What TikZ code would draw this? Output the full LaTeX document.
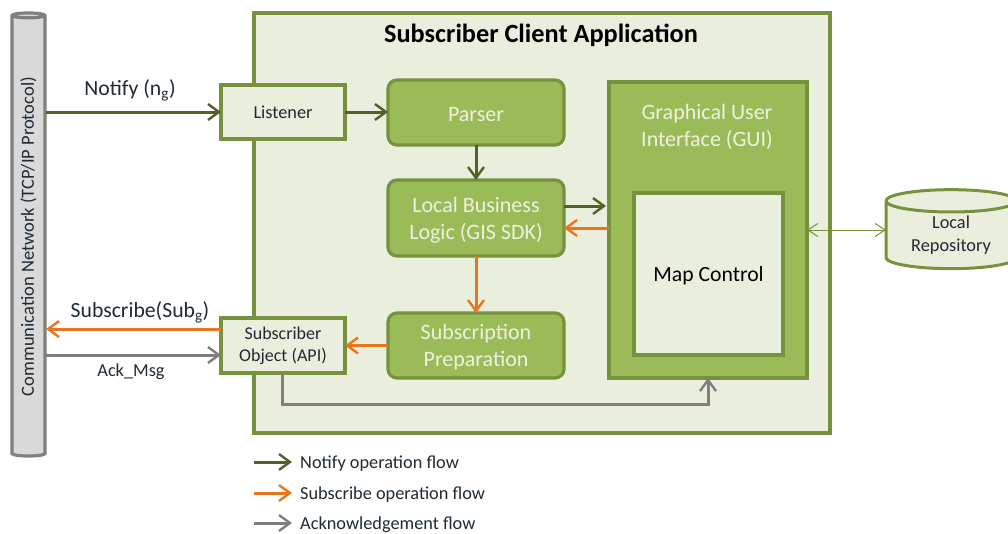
\documentclass[tikz,border=0pt]{standalone}
\usepackage{fontspec}
\setmainfont{Carlito}
\usetikzlibrary{arrows.meta,shapes.geometric}
\definecolor{oliveline}{HTML}{76923C}
\definecolor{olivefill}{HTML}{9BBB59}
\definecolor{olivepale}{HTML}{E9EEDD}
\definecolor{notifycol}{HTML}{4F6228}
\definecolor{subscol}{HTML}{E8761E}
\definecolor{ackcol}{HTML}{7F7F7F}
\definecolor{palewhite}{HTML}{EDF2E0}
\definecolor{inktext}{HTML}{1F2A33}
\tikzset{
  lowtext/.style={execute at begin node={\rule{0pt}{#1}}},
  palebox/.style={draw=oliveline,fill=olivepale,line width=3.2pt,inner sep=0pt,outer sep=0pt,align=center,text=inktext},
  stepbox/.style={draw=oliveline,fill=olivefill,line width=3.2pt,rounded corners=9pt,inner sep=0pt,outer sep=0pt,
    minimum width=176pt,align=center,text=palewhite,font=\fontsize{22}{27}\selectfont},
  flowtip/.style={-{Straight Barb[length=11pt,width=16pt,line width=2.4pt]}},
  notifyflow/.style={draw=notifycol,line width=3pt,flowtip},
  subsflow/.style={draw=subscol,line width=3pt,flowtip},
  ackflow/.style={draw=ackcol,line width=3pt,flowtip},
  flowtext/.style={inner sep=0pt,text=inktext,font=\fontsize{21.7}{24}\selectfont},
  legendtext/.style={anchor=west,inner xsep=8pt,inner ysep=0pt,text=inktext,font=\fontsize{18.3}{22}\selectfont}
}
\begin{document}
\begin{tikzpicture}[x=1pt,y=-1pt,>=Latex]
\useasboundingbox (0,0) rectangle (1008,533);

% Client application frame
\node[palebox,minimum width=576pt,minimum height=420pt] (client) at (542,223) {};
\node[text=black,font=\bfseries\fontsize{26.3}{30}\selectfont] (title) at (541,35) {Subscriber Client Application};

% Network pipe
\node[cylinder,draw=ackcol,fill=black!15,line width=3.2pt,rotate=90,aspect=0.3,inner sep=0pt,outer sep=0pt,
  minimum width=33pt,minimum height=443pt,text=inktext,font=\fontsize{18.5}{22}\selectfont] (network) at (28.5,236.5)
  {Communication Network (TCP/IP Protocol)};
\coordinate (netnotify) at (46,112);
\coordinate (netsubs) at (46,329);
\coordinate (netack) at (46,355);

% Boxes on the frame
\node[palebox,minimum width=124pt,minimum height=54pt,font=\fontsize{18.3}{22}\selectfont] (listener) at (283,112) {Listener};
\node[palebox,minimum width=124pt,minimum height=55pt,font=\fontsize{18}{22}\selectfont] (subscriber) at (283,345.5) {Subscriber\\Object (API)};

% Steps
\node[stepbox,lowtext=18.5pt,minimum height=65pt] (parser) at (476,112.5) {Parser};
\node[stepbox,minimum height=76pt] (logic) at (476,218) {\rule{0pt}{20pt}Local Business\\Logic (GIS SDK)};
\node[stepbox,minimum height=65pt] (prep) at (476,345.5) {\rule{0pt}{19pt}Subscription\\Preparation};

% GUI
\node[draw=oliveline,fill=olivefill,line width=3.2pt,inner sep=0pt,outer sep=0pt,minimum width=198pt,minimum height=296pt] (gui) at (708,230) {};
\node[align=center,text=palewhite,font=\fontsize{22}{27}\selectfont] (guititle) at (707,127) {Graphical User\\Interface (GUI)};
\node[palebox,minimum width=149pt,minimum height=162pt,text=black,font=\fontsize{21.7}{24}\selectfont,lowtext=19pt] (map) at (708.5,274) {Map Control};

% Repository
\node[cylinder,shape border rotate=90,draw=oliveline,fill=olivepale,line width=3pt,aspect=0.28,inner sep=0pt,outer sep=0pt,
  minimum width=130pt,minimum height=79pt,align=center,text=inktext,font=\fontsize{18.3}{23}\selectfont] (repo) at (951,235.5)
  {Local\\Repository};

% Notify flow
\draw[notifyflow] (netnotify) -- (listener.west);
\draw[notifyflow] (listener.east) -- (parser.west|-listener.east);
\draw[notifyflow] (parser.south-|476,0) -- (logic.north-|476,0);
\draw[notifyflow,shorten >=3pt] (logic.east|-0,206) -- (gui.west|-0,206);

% Subscribe flow
\draw[subsflow] (gui.west|-0,228) -- (logic.east|-0,228);
\draw[subsflow] (logic.south-|476,0) -- (prep.north-|476,0);
\draw[subsflow] (prep.west) -- (subscriber.east);
\draw[subsflow] (subscriber.west|-netsubs) -- (netsubs);

% Acknowledgement flow
\draw[ackflow] (netack) -- (subscriber.west|-netack);
\draw[ackflow] (subscriber.south-|282,0) |- (708,404) -- (gui.south);

% Repository link
\draw[draw=oliveline,line width=1pt,{Straight Barb[length=10pt,width=13pt,line width=1pt]}-{Straight Barb[length=10pt,width=13pt,line width=1pt]}]
  (gui.east|-0,230) -- (repo.west|-0,230);

% Flow labels
\node[flowtext] (notifylabel) at (130,90) {Notify (n\textsubscript{g})};
\node[flowtext] (subslabel) at (140,312) {Subscribe(Sub\textsubscript{g})};
\node[flowtext,font=\fontsize{18.3}{22}\selectfont] (acklabel) at (131,372) {Ack\_Msg};

% Legend
\coordinate (legnotify) at (254,462);
\coordinate (legsubs) at (254,493);
\coordinate (legack) at (254,523);
\node[legendtext] (lnotify) at (292,464) {Notify operation flow};
\node[legendtext] (lsubs) at (292,495) {Subscribe operation flow};
\node[legendtext] (lack) at (292,525) {Acknowledgement flow};
\draw[notifyflow] (legnotify) -- (lnotify.west|-legnotify);
\draw[subsflow] (legsubs) -- (lsubs.west|-legsubs);
\draw[ackflow] (legack) -- (lack.west|-legack);
\end{tikzpicture}
\end{document}
